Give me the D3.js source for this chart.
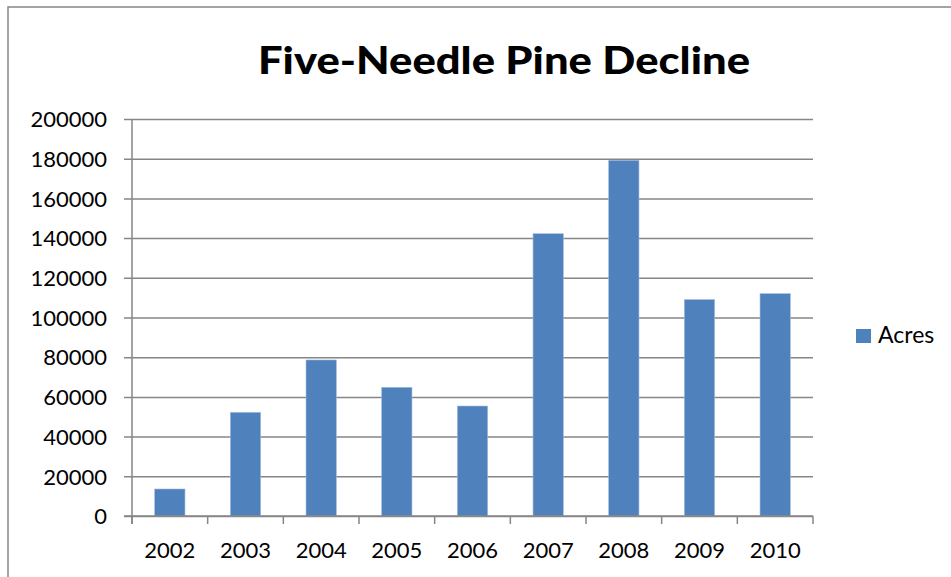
<!DOCTYPE html>
<html>
<head>
<meta charset="utf-8">
<script src="https://cdn.jsdelivr.net/npm/d3@7"></script>
<style>
  html, body { margin: 0; padding: 0; background: #fff; }
  svg { display: block; }
  text { font-family: Lato, "Open Sans", "Liberation Sans", sans-serif; fill: #000; }
</style>
</head>
<body>
<svg id="chart" width="951" height="577"></svg>
<script>
const categories = ["2002", "2003", "2004", "2005", "2006", "2007", "2008", "2009", "2010"];
const acres = [13600, 52200, 78600, 64800, 55400, 142200, 179200, 109000, 112000];
const yTicks = [0, 20000, 40000, 60000, 80000, 100000, 120000, 140000, 160000, 180000, 200000];
const seriesName = "Acres";
const titleText = "Five-Needle Pine Decline";

const svg = d3.select("#chart");
const W = 951, H = 577;
const plot = { left: 132, right: 813, top: 119, bottom: 516 };
const barColor = "#4F81BD";
const gridColor = "#868686";

// outer border
svg.append("rect")
  .attr("x", 8).attr("y", 7)
  .attr("width", W).attr("height", H)
  .attr("fill", "none").attr("stroke", gridColor).attr("stroke-width", 1.5);

const x = d3.scaleBand()
  .domain(categories)
  .range([plot.left, plot.right])
  .paddingInner(0.6).paddingOuter(0.3);

const y = d3.scaleLinear()
  .domain([0, 200000])
  .range([plot.bottom, plot.top]);

// gridlines + y tick labels
const yAxis = d3.axisLeft(y)
  .tickValues(yTicks)
  .tickSize(-(plot.right - plot.left) - 8)
  .tickPadding(17)
  .tickFormat(d3.format("d"));

const gy = svg.append("g")
  .attr("transform", `translate(${plot.left - 8},0)`)
  .call(yAxis);
gy.select(".domain").remove();
gy.selectAll(".tick line")
  .attr("stroke", gridColor).attr("stroke-width", 1.5);
gy.selectAll(".tick text")
  .style("font-size", "22px")
  .attr("dy", "0.35em");

// bars
svg.append("g").selectAll("rect")
  .data(acres)
  .join("rect")
  .attr("x", (d, i) => x(categories[i]))
  .attr("y", d => y(d))
  .attr("width", x.bandwidth())
  .attr("height", d => y(0) - y(d))
  .attr("fill", barColor)
  .attr("stroke", "#9DB8DC")
  .attr("stroke-width", 0.6);

// y axis line
svg.append("line")
  .attr("x1", plot.left).attr("x2", plot.left)
  .attr("y1", plot.top).attr("y2", plot.bottom + 8)
  .attr("stroke", gridColor).attr("stroke-width", 1.5);

// x axis line and ticks at category boundaries
svg.append("line")
  .attr("x1", plot.left - 8).attr("x2", plot.right)
  .attr("y1", plot.bottom).attr("y2", plot.bottom)
  .attr("stroke", gridColor).attr("stroke-width", 1.5);

const step = x.step();
const boundaries = d3.range(categories.length + 1).map(i => plot.left + i * step);
svg.append("g").selectAll("line")
  .data(boundaries)
  .join("line")
  .attr("x1", d => d).attr("x2", d => d)
  .attr("y1", plot.bottom).attr("y2", plot.bottom + 8)
  .attr("stroke", gridColor).attr("stroke-width", 1.5);

// x labels
svg.append("g").selectAll("text")
  .data(categories)
  .join("text")
  .attr("x", d => x(d) + x.bandwidth() / 2)
  .attr("y", 558)
  .attr("text-anchor", "middle")
  .style("font-size", "22px")
  .text(d => d);

// title
svg.append("text")
  .attr("x", 504)
  .attr("y", 74)
  .attr("text-anchor", "middle")
  .attr("textLength", 492)
  .attr("lengthAdjust", "spacingAndGlyphs")
  .style("font-size", "38px")
  .style("font-weight", "900")
  .text(titleText);

// legend
svg.append("rect")
  .attr("x", 856).attr("y", 329)
  .attr("width", 15).attr("height", 14)
  .attr("fill", barColor);
svg.append("text")
  .attr("x", 878).attr("y", 343)
  .style("font-size", "23px")
  .text(seriesName);
</script>
</body>
</html>
